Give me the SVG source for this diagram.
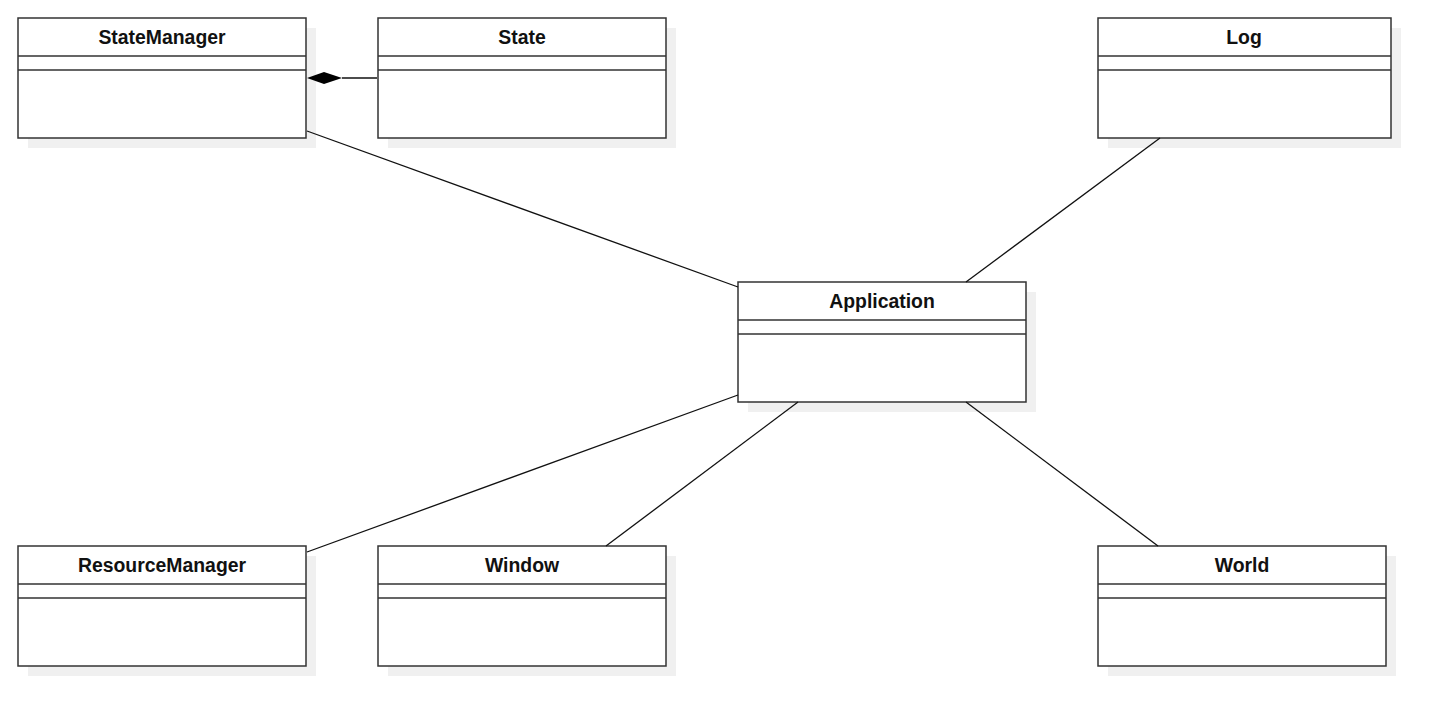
<svg xmlns="http://www.w3.org/2000/svg" width="1446" height="723" viewBox="0 0 1446 723">
<style>
.sh{fill:#f0f0f0;stroke:none}
.bx{fill:#fff;stroke:#333;stroke-width:1.5}
.ln{stroke:#333;stroke-width:1.5;fill:none}
.t{font-family:"Liberation Sans",Arial,sans-serif;font-weight:bold;font-size:19.4px;fill:#111;text-anchor:middle}
.c{stroke:#111;stroke-width:1.3;fill:none}
</style>
<rect width="1446" height="723" fill="#fff"/>
<g id="StateManager">
<rect class="sh" x="28" y="28" width="288" height="120"/>
<rect class="bx" x="18" y="18" width="288" height="120"/>
<path class="ln" d="M18,56H306M18,70H306"/>
<text class="t" x="162" y="44">StateManager</text>
</g>
<g id="State">
<rect class="sh" x="388" y="28" width="288" height="120"/>
<rect class="bx" x="378" y="18" width="288" height="120"/>
<path class="ln" d="M378,56H666M378,70H666"/>
<text class="t" x="522" y="44">State</text>
</g>
<g id="Log">
<rect class="sh" x="1108" y="28" width="293" height="120"/>
<rect class="bx" x="1098" y="18" width="293" height="120"/>
<path class="ln" d="M1098,56H1391M1098,70H1391"/>
<text class="t" x="1244" y="44">Log</text>
</g>
<g id="Application">
<rect class="sh" x="748" y="292" width="288" height="120"/>
<rect class="bx" x="738" y="282" width="288" height="120"/>
<path class="ln" d="M738,320H1026M738,334H1026"/>
<text class="t" x="882" y="308">Application</text>
</g>
<g id="ResourceManager">
<rect class="sh" x="28" y="556" width="288" height="120"/>
<rect class="bx" x="18" y="546" width="288" height="120"/>
<path class="ln" d="M18,584H306M18,598H306"/>
<text class="t" x="162" y="572">ResourceManager</text>
</g>
<g id="Window">
<rect class="sh" x="388" y="556" width="288" height="120"/>
<rect class="bx" x="378" y="546" width="288" height="120"/>
<path class="ln" d="M378,584H666M378,598H666"/>
<text class="t" x="522" y="572">Window</text>
</g>
<g id="World">
<rect class="sh" x="1108" y="556" width="288" height="120"/>
<rect class="bx" x="1098" y="546" width="288" height="120"/>
<path class="ln" d="M1098,584H1386M1098,598H1386"/>
<text class="t" x="1242" y="572">World</text>
</g>
<g id="connectors">
<line class="c" x1="307" y1="131" x2="738" y2="287"/>
<line class="c" x1="1160" y1="138" x2="966" y2="282"/>
<line class="c" x1="738" y1="395" x2="307" y2="552"/>
<line class="c" x1="798" y1="402" x2="606" y2="546"/>
<line class="c" x1="966" y1="402" x2="1158" y2="546"/>
<line class="c" x1="342" y1="78" x2="377" y2="78"/>
<polygon points="307,78 324,72 342,78 324,84" fill="#000"/>
</g>
</svg>
